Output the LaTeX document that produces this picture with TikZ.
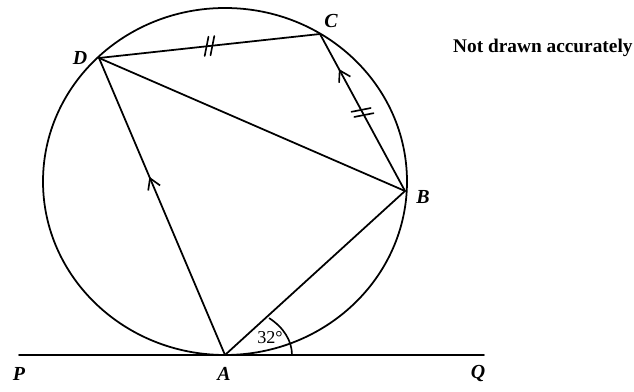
\documentclass[tikz,border=0pt]{standalone}
\usepackage{fontspec}
\setmainfont{Liberation Serif}
\usetikzlibrary{arrows.meta,decorations.markings}
\tikzset{
  geo/.style={line width=1.5pt, line cap=round},
  ptlabel/.style={font=\fontsize{17}{19}\selectfont\bfseries\itshape, inner sep=0pt},
  ticks/.style={postaction={decorate, decoration={markings, mark=at position 0.5 with {
      \draw[line width=1.4pt] (-5pt,-8pt) -- (0pt,8pt);
      \draw[line width=1.4pt] (0pt,-8pt) -- (5pt,8pt);}}}},
  parr/.style={postaction={decorate, decoration={markings, mark=at position #1 with {
      \arrow[line width=1.4pt]{Straight Barb[length=9pt,width=11pt]};}}}}
}
\begin{document}
\begin{tikzpicture}[x=0.03cm,y=0.03cm]
\useasboundingbox (0,0) rectangle (634,392);
\coordinate (O) at (225,210.5);
\coordinate (A) at (225,37);
\coordinate (B) at (405,201);
\coordinate (C) at (320,358);
\coordinate (D) at (99,334);
\coordinate (P) at (19,37);
\coordinate (Q) at (484,37);
\coordinate (R) at (292,37);
% circle
\draw[geo] (O) ellipse [x radius=182, y radius=173.5];
% tangent
\draw[geo] (P) -- (Q);
% chords
\draw[geo] (A) -- (B);
\draw[geo] (D) -- (B);
\draw[geo, ticks] (D) -- (C);
\draw[geo, ticks, parr=0.777] (B) -- (C);
\draw[geo, parr=0.6] (A) -- (D);
% angle arc
\draw[line width=1.4pt] (R) arc[start angle=0, end angle=48.9, x radius=67, y radius=49];
\node[font=\fontsize{15.5}{17}\selectfont, inner sep=0pt] (ang) at (270,54) {32°};
% labels
\node[ptlabel] (lD) at (80,334) {D};
\node[ptlabel] (lC) at (331,371) {C};
\node[ptlabel] (lB) at (423,195) {B};
\node[ptlabel] (lP) at (19,18) {P};
\node[ptlabel] (lA) at (224,18) {A};
\node[ptlabel] (lQ) at (478,18) {Q};
\node[font=\fontsize{16.5}{18}\selectfont\bfseries, inner sep=0pt, anchor=base west] (nda) at (453,339) {Not drawn accurately};
\end{tikzpicture}
\end{document}
